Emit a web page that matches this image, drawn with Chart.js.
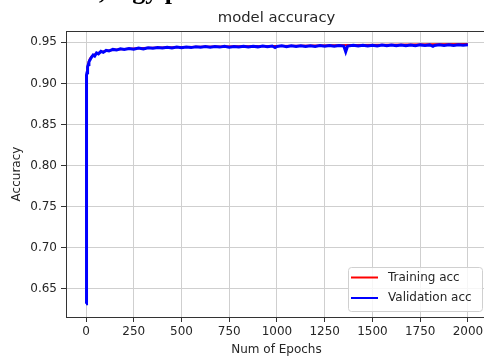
<!DOCTYPE html>
<html>
<head>
<meta charset="UTF-8">
<title>model accuracy</title>
<script src="https://cdn.jsdelivr.net/npm/chart.js@4.4.0/dist/chart.umd.min.js"></script>
<style>
  html, body { margin: 0; padding: 0; background: #fff; overflow: hidden; }
  #wrap { position: relative; width: 487px; height: 360px; }
</style>
</head>
<body>
<div id="wrap"><canvas id="acc" width="487" height="360"></canvas></div>
<script>
// training accuracy per epoch (smooth curve)
var trainEpochs = [0, 1, 2, 3, 5, 8, 12, 20, 30, 50, 75, 100, 150, 200, 300, 400, 600, 800, 1000, 1200, 1400, 1600, 1800, 2000];
var trainAcc = [0.722, 0.872, 0.896, 0.906, 0.914, 0.920, 0.925, 0.930, 0.933, 0.936, 0.938, 0.9395, 0.941, 0.942, 0.943, 0.9436,
                0.9446, 0.9451, 0.9456, 0.9461, 0.9467, 0.9472, 0.9476, 0.9480];

// validation accuracy per epoch (noisy)
var valEpochs = [0, 1, 2, 3, 4, 5, 7, 9, 12, 15, 19, 24, 30, 37, 45, 55, 65, 78, 90, 105, 120, 140, 160, 180, 200,
                 225, 250, 275, 300, 325, 350, 375, 400, 425, 450, 475, 500, 525, 550, 575, 600, 625, 650, 675, 700,
                 725, 750, 775, 800, 825, 850, 875, 900, 925, 950, 975, 990, 1000, 1025, 1050, 1075, 1100, 1125, 1150,
                 1175, 1200, 1225, 1250, 1275, 1300, 1325, 1350, 1360, 1370, 1400, 1425, 1450, 1475, 1500, 1525, 1550,
                 1575, 1600, 1625, 1650, 1675, 1700, 1725, 1750, 1775, 1800, 1817, 1825, 1850, 1875, 1900, 1925, 1950,
                 1975, 2000];
var valAcc = [0.632, 0.868, 0.892, 0.904, 0.910, 0.913, 0.917, 0.920, 0.923, 0.926, 0.928, 0.930, 0.9325, 0.9345, 0.9333,
              0.9372, 0.9360, 0.9390, 0.9378, 0.9402, 0.9394, 0.9414, 0.9406, 0.9421, 0.9412,
              0.9426, 0.9417, 0.9431, 0.9420, 0.9435, 0.9427, 0.9438, 0.9430, 0.9440, 0.9431, 0.9442, 0.9434, 0.9444,
              0.9436, 0.9447, 0.9439, 0.9448, 0.9440, 0.9450, 0.9442,
              0.9451, 0.9441, 0.9450, 0.9443, 0.9453, 0.9444, 0.9452, 0.9445, 0.9454, 0.9446, 0.9455, 0.9436, 0.9449,
              0.9457, 0.9448, 0.9458, 0.9449, 0.9459, 0.9450,
              0.9458, 0.9451, 0.9460, 0.9452, 0.9461, 0.9453, 0.9462, 0.9454, 0.9385, 0.9454, 0.9463, 0.9455, 0.9464,
              0.9456, 0.9465, 0.9457, 0.9466,
              0.9458, 0.9467, 0.9459, 0.9467, 0.9460, 0.9468, 0.9460, 0.9469, 0.9461, 0.9469, 0.9452, 0.9462, 0.9470,
              0.9462, 0.9471, 0.9463, 0.9471,
              0.9464, 0.9470];

var xTicks = [0, 250, 500, 750, 1000, 1250, 1500, 1750, 2000];
var yTicks = [0.65, 0.70, 0.75, 0.80, 0.85, 0.90, 0.95];

var FONT = 'DejaVu Sans';
var TEXT = '#262626';

function points(xs, ys) {
  return xs.map(function (x, i) { return { x: x, y: ys[i] }; });
}

// top spine, legend box, and the clipped caption line above the plot
var extras = {
  id: 'extras',
  afterDatasetsDraw: function (chart) {
    var a = chart.chartArea, ctx = chart.ctx;
    ctx.save();
    ctx.strokeStyle = '#333';
    ctx.lineWidth = 1;
    ctx.beginPath();
    ctx.moveTo(a.left, a.top + 0.5);
    ctx.lineTo(a.right, a.top + 0.5);
    ctx.stroke();
    ctx.restore();
  },
  afterDraw: function (chart) {
    var a = chart.chartArea, ctx = chart.ctx;
    ctx.save();

    // legend
    var w = 134, h = 44;
    var bx = a.right - 5 - w, by = a.bottom - 6 - h;
    ctx.beginPath();
    ctx.roundRect(bx + 0.5, by + 0.5, w, h, 3);
    ctx.fillStyle = 'rgba(255,255,255,0.8)';
    ctx.fill();
    ctx.strokeStyle = '#d0d0d0';
    ctx.lineWidth = 1;
    ctx.stroke();

    ctx.font = '12px "' + FONT + '"';
    ctx.textBaseline = 'middle';
    ctx.textAlign = 'left';
    chart.data.datasets.forEach(function (ds, i) {
      var ly = by + 10.5 + i * 20.5;
      ctx.strokeStyle = ds.borderColor;
      ctx.lineWidth = 2;
      ctx.beginPath();
      ctx.moveTo(bx + 3, ly);
      ctx.lineTo(bx + 30, ly);
      ctx.stroke();
      ctx.fillStyle = TEXT;
      ctx.fillText(ds.label, bx + 40, ly);
    });

    // caption text cut off at the top edge
    ctx.fillStyle = '#000';
    ctx.font = 'bold 26px "Liberation Serif"';
    ctx.textBaseline = 'alphabetic';
    ctx.fillText(', logy p', 99, -1);
    ctx.restore();
  }
};

var config = {
  type: 'line',
  data: {
    datasets: [{
      label: 'Training acc',
      data: points(trainEpochs, trainAcc),
      borderColor: '#ff0000',
      borderWidth: 2,
      order: 2
    }, {
      label: 'Validation acc',
      data: points(valEpochs, valAcc),
      borderColor: '#0000ff',
      borderWidth: 3,
      order: 1
    }]
  },
  options: {
    responsive: false,
    animation: false,
    layout: { padding: 0 },
    elements: {
      point: { radius: 0 },
      line: { tension: 0, fill: false }
    },
    plugins: {
      legend: { display: false },
      tooltip: { enabled: false },
      title: {
        display: true,
        fullSize: false,
        text: 'model accuracy',
        color: TEXT,
        font: { family: FONT, size: 14.8, weight: 'normal' },
        padding: { top: 9, bottom: 4.24 }
      }
    },
    scales: {
      x: {
        type: 'linear',
        min: -105,
        max: 2100,
        afterBuildTicks: function (s) { s.ticks = xTicks.map(function (v) { return { value: v }; }); },
        afterFit: function (s) { s.height = 43; },
        ticks: {
          callback: function (v) { return String(v); },
          autoSkip: false,
          maxRotation: 0,
          padding: 3,
          color: TEXT,
          font: { family: FONT, size: 12 }
        },
        grid: { color: '#cfcfcf', tickColor: '#333', tickLength: 5, lineWidth: 1 },
        border: { color: '#333', width: 1 },
        title: {
          display: true,
          text: 'Num of Epochs',
          color: TEXT,
          font: { family: FONT, size: 12 },
          padding: { top: 0, bottom: 3 }
        }
      },
      y: {
        type: 'linear',
        min: 0.6158,
        max: 0.9638,
        afterBuildTicks: function (s) { s.ticks = yTicks.map(function (v) { return { value: v }; }); },
        afterFit: function (s) { s.width = 66; },
        ticks: {
          callback: function (v) { return v.toFixed(2); },
          padding: 4,
          color: TEXT,
          font: { family: FONT, size: 12 }
        },
        grid: { color: '#cfcfcf', tickColor: '#333', tickLength: 5, lineWidth: 1 },
        border: { color: '#333', width: 1 },
        title: {
          display: true,
          text: 'Accuracy',
          color: TEXT,
          font: { family: FONT, size: 12 },
          padding: { top: 10, bottom: 0 }
        }
      }
    }
  },
  plugins: [extras]
};

var ctx = document.getElementById('acc').getContext('2d');
window.accChart = new Chart(ctx, config);
</script>
</body>
</html>
